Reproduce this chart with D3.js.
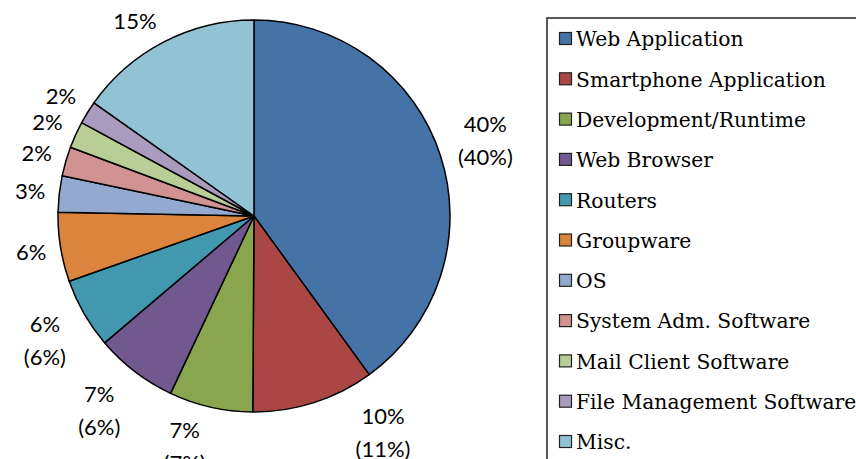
<!DOCTYPE html>
<html><head><meta charset="utf-8">
<script src="https://cdn.jsdelivr.net/npm/d3@7"></script>
<style>html,body{margin:0;padding:0;background:#fff;overflow:hidden}</style>
</head><body>
<svg id="chart" width="856" height="459"></svg>
<script>
const categories = ["Web Application","Smartphone Application","Development/Runtime","Web Browser","Routers","Groupware","OS","System Adm. Software","Mail Client Software","File Management Software","Misc."];
const values = [40, 10.1, 6.9, 6.8, 5.8, 5.7, 3.0, 2.4, 2.2, 1.9, 15.2];
const labelMain = ["40%","10%","7%","7%","6%","6%","3%","2%","2%","2%","15%"];
const labelSub = ["(40%)","(11%)","(7%)","(6%)","(6%)","","","","","",""];
const colors = ["#4572A7","#AA4643","#89A54E","#71588F","#4198AF","#DB843D","#93A9CF","#D19392","#B9CD96","#A99BBD","#92C3D5"];

const svg = d3.select("#chart");
const cx = 254, cy = 216, R = 196;
const pie = d3.pie().sort(null).value(d => d);
const arcs = pie(values);
const arc = d3.arc().innerRadius(0).outerRadius(R);

const g = svg.append("g").attr("transform", `translate(${cx},${cy})`);
g.selectAll("path").data(arcs).enter().append("path")
  .attr("d", arc).attr("fill", (d,i) => colors[i])
  .attr("stroke", "#000").attr("stroke-width", 1.5).attr("stroke-linejoin","round");

// labels
const angleShift = {1: -13, 2: 4, 3: 1, 4: -1, 10: -4};
const distExtra = {1: 6, 3: 6, 4: 3};
const R0 = 209, lineH = 33;
arcs.forEach((a, i) => {
  const t = g.append("text").attr("font-family", "Lato, 'Open Sans', sans-serif")
    .attr("font-size", 22).attr("fill", "#000").attr("text-anchor", "middle");
  const lines = labelSub[i] ? [labelMain[i], labelSub[i]] : [labelMain[i]];
  lines.forEach((s, k) => {
    t.append("tspan").attr("x", 0).attr("y", (k - (lines.length - 1) / 2) * lineH).attr("dy", "0.36em").text(s);
  });
  const bb = t.node().getBBox();
  const hw = bb.width / 2, hh = (lines.length === 1 ? 10 : 10 + lineH / 2);
  const th = (a.startAngle + a.endAngle) / 2 + (angleShift[i] || 0) * Math.PI / 180;
  const s = Math.sin(th), c = -Math.cos(th);
  const d = R0 + hw * Math.abs(s) + hh * Math.abs(c) + (distExtra[i] || 0);
  t.attr("transform", `translate(${s * d},${c * d})`);
});

// legend
const lg = svg.append("g");
lg.append("rect").attr("x", 547).attr("y", 18).attr("width", 400).attr("height", 500)
  .attr("fill", "#fff").attr("stroke", "#222").attr("stroke-width", 1.5);
categories.forEach((name, i) => {
  const y = 39 + i * 40.3;
  lg.append("rect").attr("x", 559.5).attr("y", y - 6.5).attr("width", 12).attr("height", 12)
    .attr("fill", colors[i]).attr("stroke", "#222").attr("stroke-width", 1.2);
  lg.append("text").attr("x", 576).attr("y", y).attr("dy", "0.36em")
    .attr("font-family", "'DejaVu Serif', serif").attr("font-size", 20.3).attr("fill", "#000").text(name);
});
</script>
</body></html>
